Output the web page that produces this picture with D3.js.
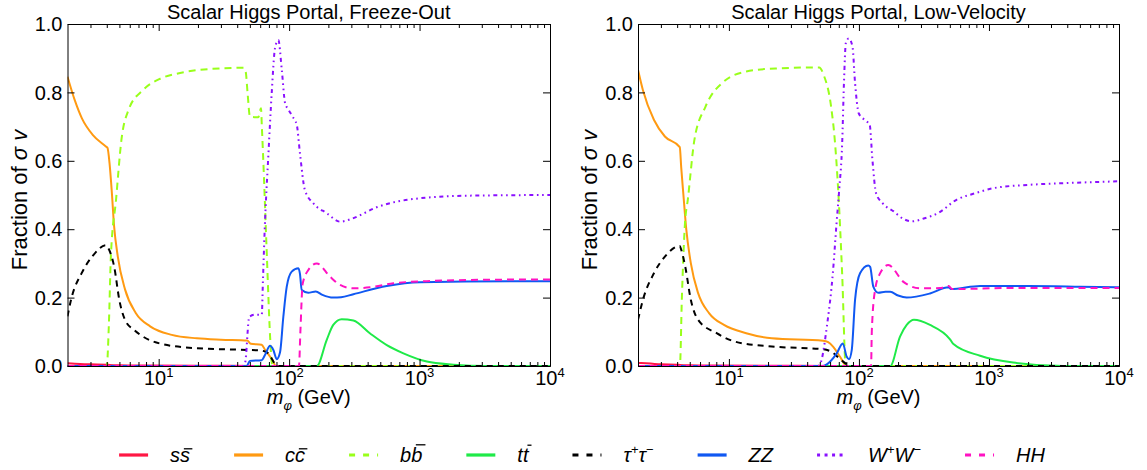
<!DOCTYPE html>
<html><head><meta charset="utf-8">
<script src="https://cdn.jsdelivr.net/npm/d3@7"></script>
<style>
body{margin:0;background:#fff}
text{font-family:"Liberation Sans",Arial,Helvetica,sans-serif;fill:#000}
</style>
</head><body>
<svg id="chart" width="1147" height="470"></svg>
<script>
// ---------------- DATA ----------------
const seriesKeys = ["ss","cc","bb","tt","tau","ZZ","WW","HH"];
const panelTitles = ["Scalar Higgs Portal, Freeze-Out", "Scalar Higgs Portal, Low-Velocity"];
const xDomain = [2, 10000];
const xMajorTicks = [10, 100, 1000, 10000];
const xTickExponents = ["1","2","3","4"];
const yTicks = [0, 0.2, 0.4, 0.6, 0.8, 1.0];
const yTickLabels = ["0.0","0.2","0.4","0.6","0.8","1.0"];

// Freeze-Out panel: [m_phi (GeV), fraction]
const fo_ss = [[2,0.008],[2.5,0.006],[3,0.005],[4,0.004],[4.2,0.003],[5,0.002],[8,0.0012],[20,0.0006],[60,0.0003],[80,0],[10000,0]];
const fo_cc = [[2,0.846],[2.27,0.778],[2.58,0.724],[3.12,0.676],[3.94,0.642],[4.05,0.638],[4.2,0.593],[4.37,0.51],[4.55,0.41],[4.86,0.32],[5.52,0.224],[6.67,0.155],[8.6,0.116],[12.6,0.091],[19.6,0.081],[30,0.077],[47.7,0.0745],[50.8,0.065],[61.5,0.062],[65.5,0.047],[74.3,0.018],[79.2,0],[10000,0]];
const fo_bb = [[2,0],[4.0,0],[4.15,0.12],[4.3,0.32],[4.71,0.486],[5.18,0.661],[5.88,0.749],[7.58,0.807],[10.4,0.841],[14.3,0.856],[20.9,0.866],[44.8,0.872],[46.5,0.86],[48,0.80],[50.1,0.729],[58,0.727],[60.9,0.754],[61.8,0.70],[63.1,0.62],[67.4,0.33],[71.5,0.085],[73.6,0.01],[75,0],[10000,0]];
const fo_tt = [[2,0],[163,0],[194,0.076],[218,0.12],[253,0.137],[311,0.133],[418,0.095],[561,0.061],[752,0.037],[1137,0.013],[1820,0.004],[3240,0],[10000,0]];
const fo_tau = [[2,0.145],[2.13,0.194],[2.58,0.273],[3.12,0.322],[3.94,0.353],[4.1,0.345],[4.56,0.29],[5.01,0.19],[5.52,0.135],[6.5,0.105],[7.58,0.086],[10.4,0.065],[19.6,0.052],[47.7,0.047],[61,0.045],[65.5,0.042],[70,0.035],[74,0.02],[79,0.003],[82,0],[10000,0]];
const fo_ZZ = [[2,0],[47.3,0],[50.1,0.015],[61.6,0.017],[65.3,0.032],[71.4,0.059],[75.7,0.047],[80.4,0.02],[85.2,0.04],[90.3,0.144],[95.9,0.232],[104.7,0.276],[117.8,0.286],[121,0.27],[125,0.222],[140,0.214],[160,0.218],[180,0.208],[218,0.2],[250,0.201],[311,0.21],[561,0.234],[1009,0.245],[5900,0.248],[10000,0.248]];
const fo_WW = [[2,0],[44,0],[46,0.01],[49.5,0.144],[55,0.15],[61.7,0.15],[63,0.25],[65,0.40],[69.4,0.62],[73.6,0.80],[78,0.93],[82.7,0.953],[87.9,0.865],[93.1,0.769],[98.7,0.75],[106,0.73],[114.5,0.705],[121,0.623],[132,0.515],[153,0.476],[194,0.447],[246,0.422],[300,0.43],[468,0.464],[881,0.488],[2290,0.498],[10000,0.5]];
const fo_HH = [[2,0],[119,0],[122,0.1],[127,0.24],[140,0.28],[163,0.30],[206,0.261],[246,0.237],[311,0.227],[418,0.23],[631,0.242],[1138,0.248],[3000,0.252],[10000,0.253]];

// Low-Velocity panel
const lv_ss = [[2,0.009],[2.5,0.007],[3,0.005],[4,0.004],[4.2,0.003],[5,0.002],[8,0.0012],[20,0.0006],[60,0.0003],[80,0],[10000,0]];
const lv_cc = [[2,0.866],[2.18,0.807],[2.65,0.72],[3.22,0.671],[4.19,0.64],[4.3,0.58],[4.47,0.50],[4.7,0.40],[5.1,0.30],[5.8,0.213],[7.06,0.154],[9.17,0.12],[13.6,0.096],[21.4,0.081],[53,0.074],[58,0.07],[63.5,0.056],[71.6,0.027],[80.6,0],[10000,0]];
const lv_bb = [[2,0],[4.2,0],[4.35,0.2],[4.6,0.42],[4.83,0.486],[5.43,0.661],[6.6,0.758],[9.16,0.832],[13.6,0.861],[22.9,0.87],[49.5,0.873],[53.7,0.85],[61.1,0.758],[65.2,0.661],[69.5,0.505],[74.3,0.27],[79.2,0],[10000,0]];
const lv_tt = [[2,0],[174,0],[207,0.086],[233,0.12],[265,0.135],[352,0.12],[502,0.078],[533,0.064],[855,0.03],[1535,0.01],[3700,0],[10000,0]];
const lv_tau = [[2,0.135],[2.18,0.193],[2.65,0.271],[3.22,0.32],[4.19,0.351],[4.3,0.34],[4.62,0.29],[5.1,0.193],[5.8,0.135],[8.05,0.096],[11.2,0.071],[21.4,0.057],[53,0.049],[63.5,0.038],[71.6,0.02],[80.6,0.005],[84,0],[10000,0]];
const lv_ZZ = [[2,0],[52,0],[56.6,0.005],[67.5,0.037],[75.1,0.066],[80.6,0.027],[83.9,0.02],[88.1,0.047],[93.4,0.194],[102,0.271],[118,0.294],[122,0.29],[129,0.232],[141,0.214],[160,0.217],[174,0.217],[200,0.206],[233,0.2],[352,0.212],[490,0.23],[510,0.225],[855,0.234],[2000,0.234],[5020,0.232],[10000,0.23]];
const lv_WW = [[2,0],[48,0],[50.2,0.005],[57.1,0.125],[63,0.271],[67.3,0.418],[70.5,0.515],[74.3,0.65],[76.7,0.827],[79.3,0.944],[83.5,0.958],[89.2,0.934],[93.4,0.827],[99.6,0.739],[110,0.72],[121,0.705],[127,0.603],[135.5,0.505],[152,0.476],[185,0.452],[220,0.43],[255,0.423],[320,0.432],[406,0.447],[563,0.486],[781,0.505],[1082,0.52],[2080,0.53],[4000,0.535],[10000,0.54]];
const lv_HH = [[2,0],[124,0],[125.6,0.1],[133,0.222],[145,0.27],[168,0.295],[220,0.246],[295,0.227],[421,0.228],[490,0.234],[520,0.225],[1535,0.228],[10000,0.228]];

const legendLabels = ["ss","cc","bb","tt","tau","ZZ","WW","HH"];

// ---------------- STYLE ----------------
const styles = {
  ss:{color:"#ff1744", dash:null},
  cc:{color:"#ff9a12", dash:null},
  bb:{color:"#99ff1a", dash:"7,5"},
  tt:{color:"#1fea48", dash:null},
  tau:{color:"#000000", dash:"6,5"},
  ZZ:{color:"#1058f2", dash:null},
  WW:{color:"#8a10ff", dash:"1.6,3.6,1.6,3.6,4,3.6"},
  HH:{color:"#ff12c2", dash:"7,5"}
};
const FS = 20;
const svg = d3.select("#chart");
svg.append("rect").attr("width",1147).attr("height",470).attr("fill","#fff");

function rich(sel, segs, fs){
  let shift = 0;
  segs.forEach(s=>{
    const ts = sel.append("tspan").text(s.t);
    const target = s.sup ? -0.42*fs : (s.sub ? 0.28*fs : 0);
    if (target-shift !== 0) ts.attr("dy", target-shift);
    shift = target;
    if (s.sup || s.sub) ts.attr("font-size", fs*0.65);
    if (s.it) ts.attr("font-style","italic");
  });
}

const TOP = 24, BOTTOM = 366;
const panels = [
  {x0:67.5, x1:550, title:panelTitles[0], data:{ss:fo_ss,cc:fo_cc,bb:fo_bb,tt:fo_tt,tau:fo_tau,ZZ:fo_ZZ,WW:fo_WW,HH:fo_HH}},
  {x0:638, x1:1119, title:panelTitles[1], data:{ss:lv_ss,cc:lv_cc,bb:lv_bb,tt:lv_tt,tau:lv_tau,ZZ:lv_ZZ,WW:lv_WW,HH:lv_HH}}
];

panels.forEach((p,pi)=>{
  const w = p.x1-p.x0, h = BOTTOM-TOP;
  const g = svg.append("g").attr("transform",`translate(${p.x0},${TOP})`);
  const x = d3.scaleLog().domain(xDomain).range([0,w]);
  const y = d3.scaleLinear().domain([0,1]).range([h,0]);
  const cid = "clip"+pi;
  g.append("clipPath").attr("id",cid).append("rect").attr("x",0).attr("y",-3).attr("width",w).attr("height",h+5);

  const line = d3.line().x(d=>x(d[0])).y(d=>y(d[1])).curve(d3.curveMonotoneX);
  const cg = g.append("g").attr("clip-path",`url(#${cid})`);
  seriesKeys.forEach(k=>{
    cg.append("path").datum(p.data[k])
      .attr("d",line).attr("fill","none")
      .attr("stroke",styles[k].color).attr("stroke-width",2)
      .attr("stroke-dasharray",styles[k].dash)
      .attr("stroke-linejoin","round");
  });

  const minors = [];
  [1,10,100,1000].forEach(d=>{ for(let i=2;i<=9;i++){ const v=i*d; if(v>xDomain[0] && v<xDomain[1]) minors.push(v);} });

  const styleAxis = a => { a.selectAll(".domain").attr("stroke","#000").attr("stroke-width",1); a.selectAll(".tick line").attr("stroke","#000"); a.selectAll(".tick text").remove(); };
  g.append("g").attr("transform",`translate(0,${h})`).call(d3.axisBottom(x).tickValues(xMajorTicks).tickSize(-7).tickSizeOuter(0).tickFormat(()=>"")).call(styleAxis);
  g.append("g").attr("transform",`translate(0,${h})`).call(d3.axisBottom(x).tickValues(minors).tickSize(-4).tickSizeOuter(0).tickFormat(()=>"")).call(styleAxis);
  g.append("g").call(d3.axisTop(x).tickValues(xMajorTicks).tickSize(-7).tickSizeOuter(0).tickFormat(()=>"")).call(styleAxis);
  g.append("g").call(d3.axisTop(x).tickValues(minors).tickSize(-4).tickSizeOuter(0).tickFormat(()=>"")).call(styleAxis);
  g.append("g").call(d3.axisLeft(y).tickValues(yTicks).tickSize(-7).tickSizeOuter(0).tickFormat(()=>"")).call(styleAxis);
  g.append("g").attr("transform",`translate(${w},0)`).call(d3.axisRight(y).tickValues(yTicks).tickSize(-7).tickSizeOuter(0).tickFormat(()=>"")).call(styleAxis);

  xMajorTicks.forEach((v,i)=>{
    const t = g.append("text").attr("x",x(v)).attr("y",h+19).attr("text-anchor","middle").attr("font-size",FS);
    rich(t,[{t:"10"},{t:xTickExponents[i],sup:true}],FS);
  });
  yTicks.forEach((v,i)=>{
    g.append("text").attr("x",-5).attr("y",y(v)).attr("dy","0.36em").attr("text-anchor","end").attr("font-size",FS).text(yTickLabels[i]);
  });

  g.append("text").attr("x",w/2).attr("y",19-TOP).attr("text-anchor","middle").attr("font-size",FS).text(p.title);
  const xl = g.append("text").attr("x",w/2).attr("y",h+38).attr("text-anchor","middle").attr("font-size",FS);
  rich(xl,[{t:"m",it:true},{t:"φ",it:true,sub:true},{t:" (GeV)"}],FS);
  const yl = g.append("text").attr("transform",`translate(${-41},${h/2+5}) rotate(-90)`).attr("text-anchor","middle").attr("font-size",22);
  rich(yl,[{t:"Fraction of "},{t:"σ v",it:true}],22);
});

// ---------------- LEGEND ----------------
const legendSpec = {
  ss:{segs:[{t:"s",it:true},{t:"s",it:true}], bar:[1], barH:0.66},
  cc:{segs:[{t:"c",it:true},{t:"c",it:true}], bar:[1], barH:0.66},
  bb:{segs:[{t:"b",it:true},{t:"b",it:true}], bar:[1], barH:0.86},
  tt:{segs:[{t:"t",it:true},{t:"t",it:true}], bar:[1], barH:0.84},
  tau:{segs:[{t:"τ",it:true},{t:"+",sup:true},{t:"τ",it:true},{t:"−",sup:true}], bar:[]},
  ZZ:{segs:[{t:"ZZ",it:true}], bar:[]},
  WW:{segs:[{t:"W",it:true},{t:"+",sup:true},{t:"W",it:true},{t:"−",sup:true}], bar:[]},
  HH:{segs:[{t:"HH",it:true}], bar:[]}
};
const LY = 455, lineLen = 29, labGap = 22, itemGap = 44;
const lg = svg.append("g");
let cx = 0;
legendLabels.forEach(k=>{
  const it = lg.append("g");
  it.append("line").attr("x1",cx).attr("x2",cx+lineLen).attr("y1",LY).attr("y2",LY)
    .attr("stroke",styles[k].color).attr("stroke-width",3.2)
    .attr("stroke-dasharray", k==="WW" ? "3,4.5" : (styles[k].dash ? "6,8" : null));
  const t = it.append("text").attr("x",cx+lineLen+labGap).attr("y",LY+7).attr("font-size",FS);
  rich(t, legendSpec[k].segs, FS);
  const node = t.node();
  legendSpec[k].bar.forEach(ci=>{
    const sp = node.getStartPositionOfChar(ci);
    const wd = node.getSubStringLength(ci,1);
    const yb = LY+7 - legendSpec[k].barH*FS;
    const slant = 0.21*legendSpec[k].barH*FS;
    it.append("line").attr("x1",sp.x+slant+1).attr("x2",sp.x+wd+slant-0.5).attr("y1",yb).attr("y2",yb).attr("stroke","#000").attr("stroke-width",1.3);
  });
  const tw = node.getComputedTextLength();
  cx = cx + lineLen + labGap + tw + itemGap;
});
const totalW = cx - itemGap;
lg.attr("transform",`translate(${582 - totalW/2},0)`);
</script>
</body></html>
